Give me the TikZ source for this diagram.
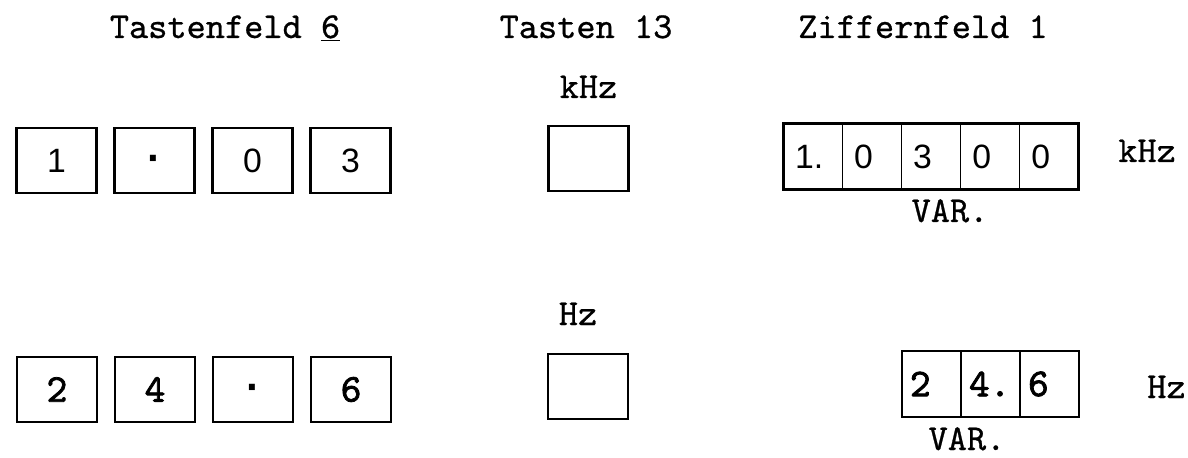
\documentclass[tikz,border=0pt]{standalone}
\usepackage{fontspec}
\setsansfont{Liberation Sans}
\newfontfamily\typefont[FakeBold=0.7]{lmmono10-regular.otf}
\newfontfamily\typebold[FakeBold=2]{lmmono10-regular.otf}
\usetikzlibrary{positioning}

\tikzset{
  lab/.style={font=\fontsize{26}{28}\selectfont\typefont, inner sep=0pt},
  keybox/.style={draw, line width=1.6pt, minimum width=2cm, minimum height=1.625cm, inner sep=0pt, outer sep=0pt},
  keysans/.style={keybox, font=\fontsize{24}{26}\selectfont\sffamily},
  keymono/.style={keybox, font=\fontsize{28}{30}\selectfont\typebold},
  cell/.style={draw, line width=0.9pt, minimum height=1.65cm, inner ysep=0pt, outer sep=0pt, align=left},
  cellsans/.style={cell, text width=0.875cm, inner xsep=0.3cm, font=\fontsize{24}{26}\selectfont\sffamily},
  cellmono/.style={cell, text width=1.075cm, inner xsep=0.2cm, font=\fontsize{28}{30}\selectfont\typebold},
  dispframe/.style={line width=2pt}
}

\begin{document}
\begin{tikzpicture}[x=0.025cm, y=-0.025cm]
  \useasboundingbox (0,0) rectangle (1188,458);

  \node[lab, anchor=base] (tfeld) at (225,38) {Tastenfeld \underline{6}};
  \node[lab, anchor=base] (tasten) at (586,38) {Tasten 13};
  \node[lab, anchor=base] (zfeld) at (923,38) {Ziffernfeld 1};

  \node[keysans] (tA1) at (56.5,160.5) {1};
  \node[keysans, right=0.45cm of tA1] (tA2) {\vphantom{0}{\fontsize{30}{30}\selectfont\bfseries ·}};
  \node[keysans, right=0.45cm of tA2] (tA3) {0};
  \node[keysans, right=0.45cm of tA3] (tA4) {3};

  \node[keymono] (tB1) at (57,389.5) {2};
  \node[keymono, right=0.45cm of tB1] (tB2) {4};
  \node[keymono, right=0.45cm of tB2] (tB3) {\vphantom{0}{\fontsize{30}{30}\selectfont\sffamily\bfseries ·}};
  \node[keymono, right=0.45cm of tB3] (tB4) {6};

  \node[lab, anchor=base] (lkhz) at (588.5,98) {kHz};
  \node[keybox] (kkhz) at (588.5,158.5) {};
  \node[lab, anchor=base] (lhz) at (578,325) {Hz};
  \node[keybox] (khz) at (588,386.5) {};

  \node[cellsans] (dA1) at (812.7,156.5) {1.};
  \node[cellsans, right=0pt of dA1] (dA2) {0};
  \node[cellsans, right=0pt of dA2] (dA3) {3};
  \node[cellsans, right=0pt of dA3] (dA4) {0};
  \node[cellsans, right=0pt of dA4] (dA5) {0};
  \draw[dispframe] (dA1.north west) rectangle (dA5.south east);
  \node[lab, anchor=base west] (ukhz) at (1118,162) {kHz};
  \node[lab, anchor=base] (varA) at (950,222) {VAR.};

  \node[cellmono] (dB1) at (931.5,384) {2};
  \node[cellmono, right=0pt of dB1] (dB2) {4.};
  \node[cellmono, right=0pt of dB2] (dB3) {6};
  \draw[dispframe] (dB1.north west) rectangle (dB3.south east);
  \node[lab, anchor=base west] (uhz) at (1147,398) {Hz};
  \node[lab, anchor=base] (varB) at (967,450) {VAR.};
\end{tikzpicture}
\end{document}
